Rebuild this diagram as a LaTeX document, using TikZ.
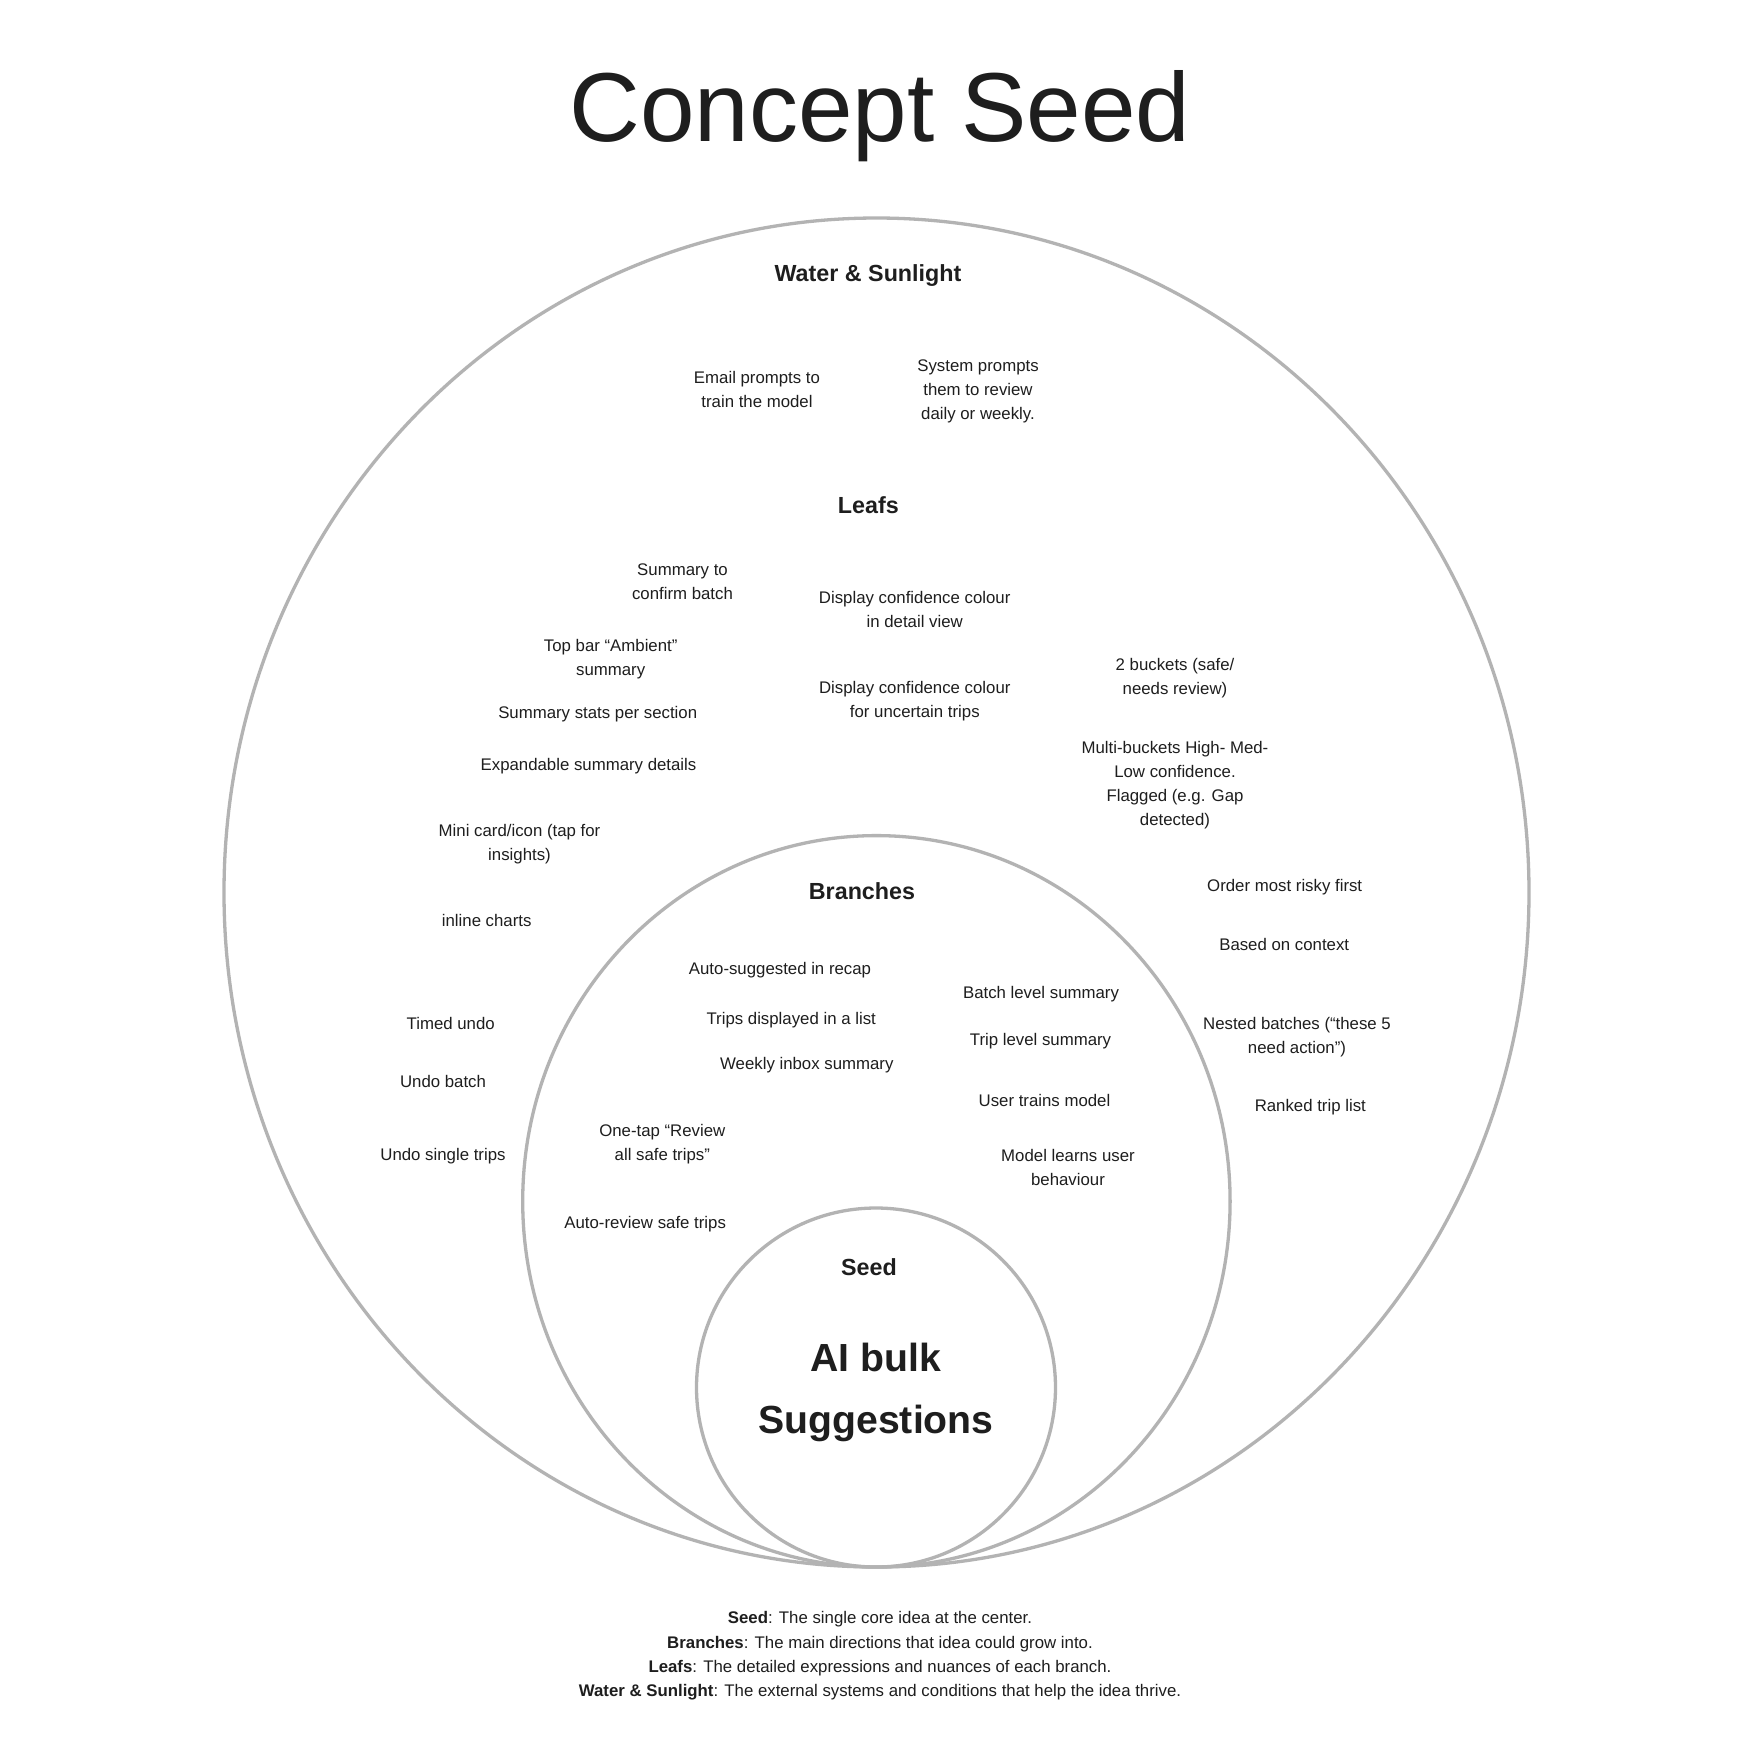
\documentclass[tikz,border=0pt]{standalone}
\usepackage{fontspec}
\setmainfont{Liberation Sans}
\definecolor{ink}{HTML}{1E1E1E}
\definecolor{ring}{HTML}{B3B3B3}
\tikzset{
  base/.style={text=ink, inner sep=0pt, align=center,
    execute at begin node=\vphantom{(}, execute at end node=\vphantom{(}},
  txt/.style={base, font=\fontsize{8.4}{12}\selectfont},
  head/.style={base, font=\fontsize{11.65}{14}\selectfont\bfseries},
  seedtxt/.style={base, font=\fontsize{19.6}{30.8}\selectfont\bfseries},
  titletxt/.style={base, font=\fontsize{49}{58}\selectfont},
  captxt/.style={base, font=\fontsize{8.4}{12.2}\selectfont},
  ringline/.style={draw=ring, line width=1.65pt},
}
\begin{document}
\begin{tikzpicture}[x=0.5pt, y=-0.5pt]
\fill[white] (0,0) rectangle (1753,1753);
\useasboundingbox (0,0) rectangle (1753,1753);
% rings
\draw[ringline] (876.5,892.5) ellipse [x radius=652.5, y radius=674.5];
\draw[ringline] (876.4,1201.3) ellipse [x radius=353.7, y radius=365.7];
\draw[ringline] (876,1387.5) circle [radius=179.5];
% title
\node[titletxt] (title) at (880,116) {Concept Seed};
% water & sunlight
\node[head] (water) at (868,276) {Water \& Sunlight};
\node[txt] (email) at (757,391.5) {Email prompts to\\train the model};
\node[txt] (system) at (978,391.5) {System prompts\\them to review\\ daily or weekly.};
% leafs
\node[head] (leafs) at (868.3,507.7) {Leafs};
\node[txt] (l1) at (682.5,583.3) {Summary to\\confirm batch};
\node[txt] (l2) at (914.7,611.4) {Display confidence colour\\in detail view};
\node[txt] (l3) at (610.7,659.5) {Top bar “Ambient”\\summary};
\node[txt] (l4) at (1175,678.3) {2 buckets (safe/\\needs review)};
\node[txt] (l5) at (914.8,700.7) {Display confidence colour\\for uncertain trips};
\node[txt] (l6) at (597.7,714.3) {Summary stats per section};
\node[txt] (l7) at (1175,785.4) {Multi-buckets High- Med-\\Low confidence.\\Flagged (e.g. Gap\\detected)};
\node[txt] (l8) at (588.5,766) {Expandable summary details};
\node[txt] (l9) at (519.5,844) {Mini card/icon (tap for\\insights)};
\node[txt] (l10) at (1284.7,887.4) {Order most risky first};
\node[txt] (l11) at (486.7,922.4) {inline charts};
\node[txt] (l12) at (1284.2,946.6) {Based on context};
\node[txt] (l13) at (450.7,1025) {Timed undo};
\node[txt] (l14) at (1297,1037.2) {Nested batches (“these 5\\need action”)};
\node[txt] (l15) at (443,1083) {Undo batch};
\node[txt] (l16) at (1310.3,1107.4) {Ranked trip list};
\node[txt] (l17) at (443,1156) {Undo single trips};
% branches
\node[head] (branches) at (862,893.7) {Branches};
\node[txt] (b1) at (780,970.5) {Auto-suggested in recap};
\node[txt] (b2) at (1041,994.3) {Batch level summary};
\node[txt] (b3) at (791.2,1019.7) {Trips displayed in a list};
\node[txt] (b4) at (1040.5,1041.3) {Trip level summary};
\node[txt] (b5) at (806.8,1065.3) {Weekly inbox summary};
\node[txt] (b6) at (1044.5,1102.3) {User trains model};
\node[txt] (b7) at (662.3,1144) {One-tap “Review\\all safe trips”};
\node[txt] (b8) at (1068,1168.7) {Model learns user\\behaviour};
\node[txt] (b9) at (645.2,1223.7) {Auto-review safe trips};
% seed
\node[head] (seed) at (869,1269) {Seed};
\node[seedtxt] (core) at (876,1392.5) {AI bulk\\Suggestions};
% caption
\node[captxt] (caption) at (880,1656) {\textbf{Seed}: The single core idea at the center.\\
\textbf{Branches}: The main directions that idea could grow into.\\
\textbf{Leafs}: The detailed expressions and nuances of each branch.\\
\textbf{Water \& Sunlight}: The external systems and conditions that help the idea thrive.};
\end{tikzpicture}
\end{document}
